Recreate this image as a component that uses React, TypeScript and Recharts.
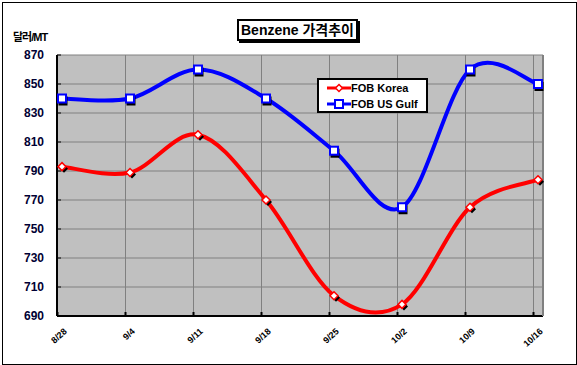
import React from "react";
import {
  LineChart,
  Line,
  XAxis,
  YAxis,
  CartesianGrid,
  Legend
} from "recharts";

const dates = ["8/28", "9/4", "9/11", "9/18", "9/25", "10/2", "10/9", "10/16"];
const korea = [793, 789, 815, 770, 704, 698, 765, 784];
const usGulf = [840, 840, 860, 840, 804, 765, 860, 850];
const yTicks = [690, 710, 730, 750, 770, 790, 810, 830, 850, 870];

const data = dates.map((d, i) => ({ date: d, korea: korea[i], gulf: usGulf[i] }));

const FONT = '"Liberation Sans", Arial, "Noto Sans CJK KR", sans-serif';

// Excel-style smoothing (Catmull-Rom, tension 1/6)
const excelCurve = (context: any) => {
  let pts: number[][] = [];
  return {
    areaStart() {},
    areaEnd() {},
    lineStart() {
      pts = [];
    },
    point(x: number, y: number) {
      pts.push([+x, +y]);
    },
    lineEnd() {
      if (!pts.length) return;
      context.moveTo(pts[0][0], pts[0][1]);
      for (let i = 0; i < pts.length - 1; i++) {
        const p0 = pts[i - 1] || pts[i];
        const p1 = pts[i];
        const p2 = pts[i + 1];
        const p3 = pts[i + 2] || pts[i + 1];
        context.bezierCurveTo(
          p1[0] + (p2[0] - p0[0]) / 6,
          p1[1] + (p2[1] - p0[1]) / 6,
          p2[0] - (p3[0] - p1[0]) / 6,
          p2[1] - (p3[1] - p1[1]) / 6,
          p2[0],
          p2[1]
        );
      }
    }
  };
};

const diamond = (cx: number, cy: number, r: number) =>
  `M${cx},${cy - r}L${cx + r},${cy}L${cx},${cy + r}L${cx - r},${cy}Z`;

const KoreaDot = (props: any) => {
  const { cx, cy, index } = props;
  if (cx == null || cy == null) return <g key={`k${index}`} />;
  return (
    <g key={`k${index}`}>
      <path d={diamond(cx + 2, cy + 2, 4)} fill="#000" />
      <path d={diamond(cx, cy, 4)} fill="#fff" stroke="#ff0000" strokeWidth={1.5} />
    </g>
  );
};

const GulfDot = (props: any) => {
  const { cx, cy, index } = props;
  if (cx == null || cy == null) return <g key={`g${index}`} />;
  return (
    <g key={`g${index}`}>
      <rect x={cx - 3.5} y={cy - 2} width={9} height={9} fill="#000" />
      <rect x={cx - 4} y={cy - 4} width={8} height={8} fill="#fff" stroke="#0000ff" strokeWidth={2} />
    </g>
  );
};

const XTick = (props: any) => {
  const { x, y, payload } = props;
  const ax = x + 8;
  const ay = y - 2;
  return (
    <text
      x={ax}
      y={ay}
      transform={`rotate(-42 ${ax} ${ay})`}
      textAnchor="end"
      dominantBaseline="central"
      fontFamily={FONT}
      fontWeight="bold"
      fontSize={9}
      fill="#000"
    >
      {payload.value}
    </text>
  );
};

const YTick = (props: any) => {
  const { x, y, payload } = props;
  return (
    <text
      x={x}
      y={y}
      textAnchor="end"
      dominantBaseline="central"
      fontFamily={FONT}
      fontWeight="bold"
      fontSize={12}
      fill="#000033"
    >
      {payload.value}
    </text>
  );
};

const LegendBox = () => (
  <div
    style={{
      border: "2px solid #000",
      background: "#fff",
      width: 107,
      height: 31,
      fontFamily: FONT,
      fontWeight: "bold",
      fontSize: 11,
      color: "#000",
      boxSizing: "content-box"
    }}
  >
    <div style={{ display: "flex", alignItems: "center", height: 16, marginTop: 0 }}>
      <svg width={24} height={10} style={{ marginLeft: 8 }}>
        <line x1={0} y1={5} x2={24} y2={5} stroke="#ff0000" strokeWidth={3} />
        <path d={diamond(12, 5, 3.5)} fill="#fff" stroke="#ff0000" strokeWidth={1.5} />
      </svg>
      <span>FOB Korea</span>
    </div>
    <div style={{ display: "flex", alignItems: "center", height: 16 }}>
      <svg width={24} height={10} style={{ marginLeft: 8 }}>
        <line x1={0} y1={5} x2={24} y2={5} stroke="#0000ff" strokeWidth={3} />
        <rect x={8} y={1} width={8} height={8} fill="#fff" stroke="#0000ff" strokeWidth={2} />
      </svg>
      <span>FOB US Gulf</span>
    </div>
  </div>
);

export default function App() {
  return (
    <div style={{ position: "absolute", left: 0, top: 0, width: 577, height: 365, background: "#fff" }}>
      <LineChart
        width={577}
        height={365}
        data={data}
        margin={{ top: 55, right: 33, bottom: 0, left: 0 }}
      >
        <CartesianGrid
          xAxisId="grid"
          yAxisId="left"
          stroke="#808080"
          strokeWidth={1}
          fill="#c0c0c0"
          fillOpacity={1}
        />
        <XAxis
          xAxisId="grid"
          dataKey="date"
          padding={{ left: 0.5, right: 9.5 }}
          height={49}
          interval={0}
          axisLine={{ stroke: "#000", strokeWidth: 2 }}
          tickLine={{ stroke: "#000", strokeWidth: 2 }}
          tickSize={-4}
          tickMargin={20}
          tick={<XTick />}
        />
        <XAxis xAxisId="data" dataKey="date" hide height={0} padding={{ left: 5, right: 5 }} />
        <YAxis
          yAxisId="left"
          width={57}
          domain={[690, 870]}
          ticks={yTicks}
          interval={0}
          axisLine={{ stroke: "#000", strokeWidth: 2 }}
          tickLine={{ stroke: "#000", strokeWidth: 1 }}
          tickSize={-4}
          tickMargin={17}
          tick={<YTick />}
        />
        <YAxis
          yAxisId="right"
          orientation="right"
          width={1}
          tick={false}
          tickLine={false}
          axisLine={{ stroke: "#808080", strokeWidth: 2 }}
        />
        <Legend
          layout="vertical"
          align="center"
          verticalAlign="middle"
          content={<LegendBox />}
          wrapperStyle={{ left: 317, top: 78, width: 111, height: 35 }}
        />
        <Line
          xAxisId="data"
          yAxisId="left"
          dataKey="korea"
          name="FOB Korea"
          type={excelCurve as any}
          stroke="#ff0000"
          strokeWidth={4}
          dot={KoreaDot}
          activeDot={false}
          isAnimationActive={false}
        />
        <Line
          xAxisId="data"
          yAxisId="left"
          dataKey="gulf"
          name="FOB US Gulf"
          type={excelCurve as any}
          stroke="#0000ff"
          strokeWidth={4}
          dot={GulfDot}
          activeDot={false}
          isAnimationActive={false}
        />
      </LineChart>
      <div
        style={{
          position: "absolute",
          left: 237,
          top: 19,
          height: 18,
          lineHeight: "18px",
          padding: "0 2px",
          border: "2px solid #000",
          boxShadow: "2px 2px 0 #000",
          background: "#fff",
          fontFamily: FONT,
          fontWeight: "bold",
          fontSize: 14,
          color: "#000",
          whiteSpace: "nowrap"
        }}
      >
        Benzene 가격추이
      </div>
      <div
        style={{
          position: "absolute",
          left: 13,
          top: 28,
          fontFamily: FONT,
          fontWeight: "bold",
          fontSize: 11,
          letterSpacing: -1,
          color: "#000",
          whiteSpace: "nowrap"
        }}
      >
        달러/MT
      </div>
      <div
        style={{
          position: "absolute",
          left: 2,
          top: 2,
          width: 573,
          height: 361,
          border: "1px solid #000",
          pointerEvents: "none"
        }}
      />
    </div>
  );
}
